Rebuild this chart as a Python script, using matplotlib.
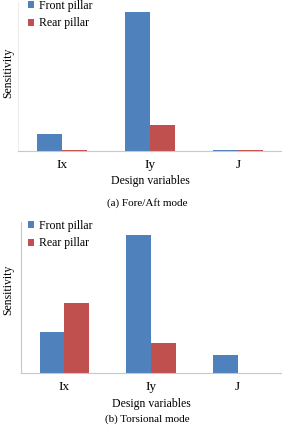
import numpy as np
import matplotlib
matplotlib.use("Agg")
import matplotlib.pyplot as plt

plt.rcParams['font.family'] = ['Liberation Serif', 'DejaVu Serif']

# design variables and sensitivities (arbitrary units)
variables = ['Ix', 'Iy', 'J']
series = ['Front pillar', 'Rear pillar']
colors = ['#4F81BD', '#C0504D']

fore_aft_front = [17, 139, 1.2]
fore_aft_rear = [1.5, 26, 0.6]

torsion_front = [41, 138, 18]
torsion_rear = [70, 30, 0]

W, H = 282, 425
fig = plt.figure(figsize=(W / 100, H / 100), dpi=100)


def px_axes(left, top, right, bottom):
    return fig.add_axes([left / W, 1 - bottom / H, (right - left) / W, (bottom - top) / H])


def panel(ax, front, rear, ymax, spine_col, leg_y, caption, cap_y, ylab_y):
    x = np.arange(len(variables))
    w = 0.285
    ax.bar(x - w / 2, front, w, color=colors[0], label=series[0])
    ax.bar(x + w / 2, rear, w, color=colors[1], label=series[1])
    ax.set_xlim(-0.5, 2.5)
    ax.set_ylim(0, ymax)
    ax.set_xticks(x)
    ax.set_xticklabels(variables, fontsize=9.5)
    ax.set_yticks([])
    ax.tick_params(axis='x', length=0, pad=6)
    for s in ['top', 'right']:
        ax.spines[s].set_visible(False)
    ax.spines['left'].set_color(spine_col)
    ax.spines['bottom'].set_color('#c8c8c8')
    ax.spines['left'].set_linewidth(0.8)
    ax.spines['bottom'].set_linewidth(0.8)
    ax.set_xlabel('Design variables', fontsize=8.5, labelpad=3)
    fig.text(8 / W, 1 - ylab_y / H, 'Sensitivity', rotation=90, fontsize=8.5,
             ha='center', va='center')
    ax.legend(loc='upper left', bbox_to_anchor=(28 / W, 1 - leg_y / H),
              bbox_transform=fig.transFigure, frameon=False, fontsize=8.5,
              handlelength=0.55, handleheight=0.55, handletextpad=0.4,
              labelspacing=0.45, borderpad=0, borderaxespad=0)
    fig.text(147 / W, 1 - cap_y / H, caption, fontsize=8, ha='center', va='center')


ax1 = px_axes(18, 2, 282, 151)
panel(ax1, fore_aft_front, fore_aft_rear, 149, '#eeeeee', 0, '(a) Fore/Aft mode', 203, 73)

ax2 = px_axes(21, 222, 281, 373)
panel(ax2, torsion_front, torsion_rear, 151, '#c8c8c8', 220, '(b) Torsional mode', 419, 290)

fig.savefig('out.png', dpi=100)
